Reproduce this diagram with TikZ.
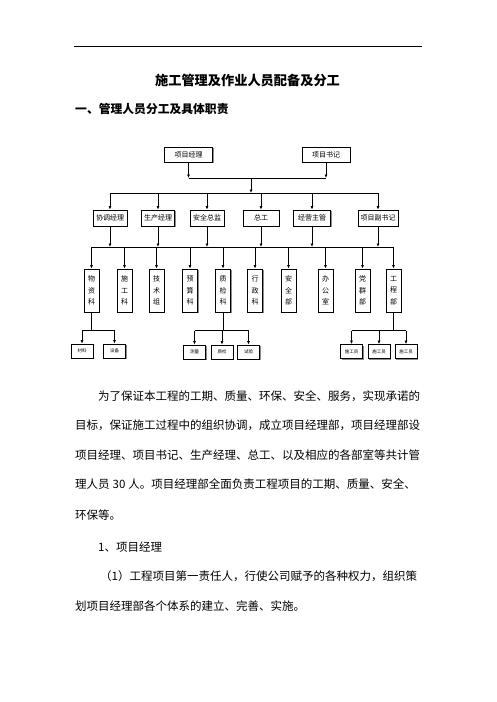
\documentclass[tikz,border=0pt]{standalone}
\usepackage{fontspec}
\newfontfamily\cjk{Noto Sans CJK SC}
\XeTeXlinebreaklocale "zh"
\XeTeXlinebreakskip=0pt plus 1fil
\usetikzlibrary{positioning,arrows.meta,shadows}

\tikzset{
  box/.style={draw, fill=white, line width=0.8pt, inner sep=0pt,
    font=\cjk\fontsize{7}{8}\selectfont,
    drop shadow={shadow xshift=1.2pt, shadow yshift=-1.2pt, fill=black!45, opacity=1}},
  topbox/.style={box, minimum width=48pt, minimum height=15pt},
  midbox/.style={box, minimum height=16pt},
  deptbox/.style={box, minimum width=15pt, minimum height=43pt, align=center,
    font=\cjk\fontsize{7}{11.5}\selectfont},
  subbox/.style={box, minimum width=22pt, minimum height=14pt,
    font=\cjk\fontsize{4.5}{5}\selectfont,
    drop shadow={shadow xshift=0.8pt, shadow yshift=-0.8pt, fill=black!45, opacity=1}},
  arr/.style={-{Latex[length=3.5pt,width=3pt]}, line width=0.8pt},
  wire/.style={line width=0.8pt},
  para/.style={anchor=west, inner sep=0pt, font=\cjk\fontsize{11.5}{14}\selectfont},
}

\begin{document}
\begin{tikzpicture}[x=1pt, y=-1pt]
    \useasboundingbox (0,0) rectangle (496,702);

    % page header
    \coordinate (ruleL) at (74,46);
    \coordinate (ruleR) at (422,46);
    \draw[line width=0.8pt] (ruleL) -- (ruleR);
    \node[font=\cjk\bfseries\fontsize{13.2}{15}\selectfont] (title) at (247.5,80) {施工管理及作业人员配备及分工};
    \node[anchor=west, inner sep=0pt, font=\cjk\bfseries\fontsize{11.8}{14}\selectfont] (head) at (75,109) {一、管理人员分工及具体职责};

    % top level
    \node[topbox] (pm) at (188.5,154.5) {项目经理};
    \node[topbox] (ps) at (326,154.5) {项目书记};
    \coordinate (j0) at (251,178);
    \coordinate (b1) at (251,193);
    \draw[arr] (pm) -- (pm |- j0);
    \draw[arr] (ps) -- (ps |- j0);
    \draw[wire] (pm |- j0) -- (ps |- j0);
    \draw[arr] (j0) -- (b1);

    % second level
    \node[midbox, minimum width=34pt] (coord) at (110,218) {协调经理};
    \node[midbox, minimum width=33pt] (prod)  at (158,218) {生产经理};
    \node[midbox, minimum width=34pt] (safe)  at (207,218) {安全总监};
    \node[midbox, minimum width=36pt] (chief) at (261,218) {总工};
    \node[midbox, minimum width=37pt] (biz)   at (312,218) {经营主管};
    \node[midbox, minimum width=40pt] (dsec)  at (378,218) {项目副书记};
    \draw[wire] (coord |- b1) -- (dsec |- b1);
    \foreach \n in {coord,prod,safe,chief,biz,dsec}
        \draw[arr] (\n |- b1) -- (\n);

    % departments
    \coordinate (b2) at (0,247);
    \node[deptbox] (wz) at (91.5,290.5)  {物\\资\\科};
    \node[deptbox] (sg) at (124.5,290.5) {施\\工\\科};
    \node[deptbox] (js) at (156.5,290.5) {技\\术\\组};
    \node[deptbox] (ys) at (190,290.5)   {预\\算\\科};
    \node[deptbox] (zj) at (223,290.5)   {质\\检\\科};
    \node[deptbox] (xz) at (255,290.5)   {行\\政\\科};
    \node[deptbox] (aq) at (288.5,290.5) {安\\全\\部};
    \node[deptbox] (bg) at (325.5,290.5) {办\\公\\室};
    \node[deptbox] (dq) at (362.5,290.5) {党\\群\\部};
    \node[deptbox] (gc) at (393.5,290.5) {工\\程\\部};
    \foreach \n in {coord,prod,safe,chief,biz,dsec}
        \draw[arr] (\n) -- (\n |- b2);
    \draw[wire] (wz |- b2) -- (gc |- b2);
    \foreach \n in {wz,sg,js,ys,zj,xz,aq,bg,dq,gc}
        \draw[arr] (\n |- b2) -- (\n);

    % teams
    \coordinate (b3) at (0,330.5);
    \node[subbox] (cl) at (82,351)    {材料};
    \node[subbox] (sb) at (114.5,351) {设备};
    \node[subbox] (cm) at (194.5,352) {测量};
    \node[subbox] (zl) at (222,352)   {质检};
    \node[subbox] (sy) at (248.5,352) {试验};
    \node[subbox] (sa) at (351.5,351.5) {施工员};
    \node[subbox] (sc) at (379,351.5)   {施工员};
    \node[subbox] (sd) at (406,351.5)   {施工员};
    \draw[wire] (wz) -- (wz |- b3);
    \draw[wire] (cl |- b3) -- (sb |- b3);
    \draw[wire] (zj) -- (zj |- b3);
    \draw[wire] (cm |- b3) -- (sy |- b3);
    \draw[wire] (gc) -- (gc |- b3);
    \draw[wire] (sa |- b3) -- (sd |- b3);
    \foreach \n in {cl,sb,cm,zl,sy,sa,sc,sd}
        \draw[arr] (\n |- b3) -- (\n);

    % body text
    \node[para] (p1) at (98,396)  {\makebox[324pt][s]{为了保证本工程的工期、质量、环保、安全、服务，实现承诺的}};
    \node[para] (p2) at (75,425)  {\makebox[347pt][s]{目标，保证施工过程中的组织协调，成立项目经理部，项目经理部设}};
    \node[para] (p3) at (75,455)  {\makebox[347pt][s]{项目经理、项目书记、生产经理、总工、以及相应的各部室等共计管}};
    \node[para] (p4) at (75,484)  {\makebox[347pt][s]{理人员\kern3pt\mbox{30}\kern3pt 人。项目经理部全面负责工程项目的工期、质量、安全、}};
    \node[para] (p5) at (75,515)  {环保等。};
    \node[para] (p6) at (98,547)  {1、项目经理};
    \node[para] (p7) at (100,576) {\makebox[322pt][s]{（1）工程项目第一责任人，行使公司赋予的各种权力，组织策}};
    \node[para] (p8) at (75,606)  {划项目经理部各个体系的建立、完善、实施。};
\end{tikzpicture}
\end{document}
